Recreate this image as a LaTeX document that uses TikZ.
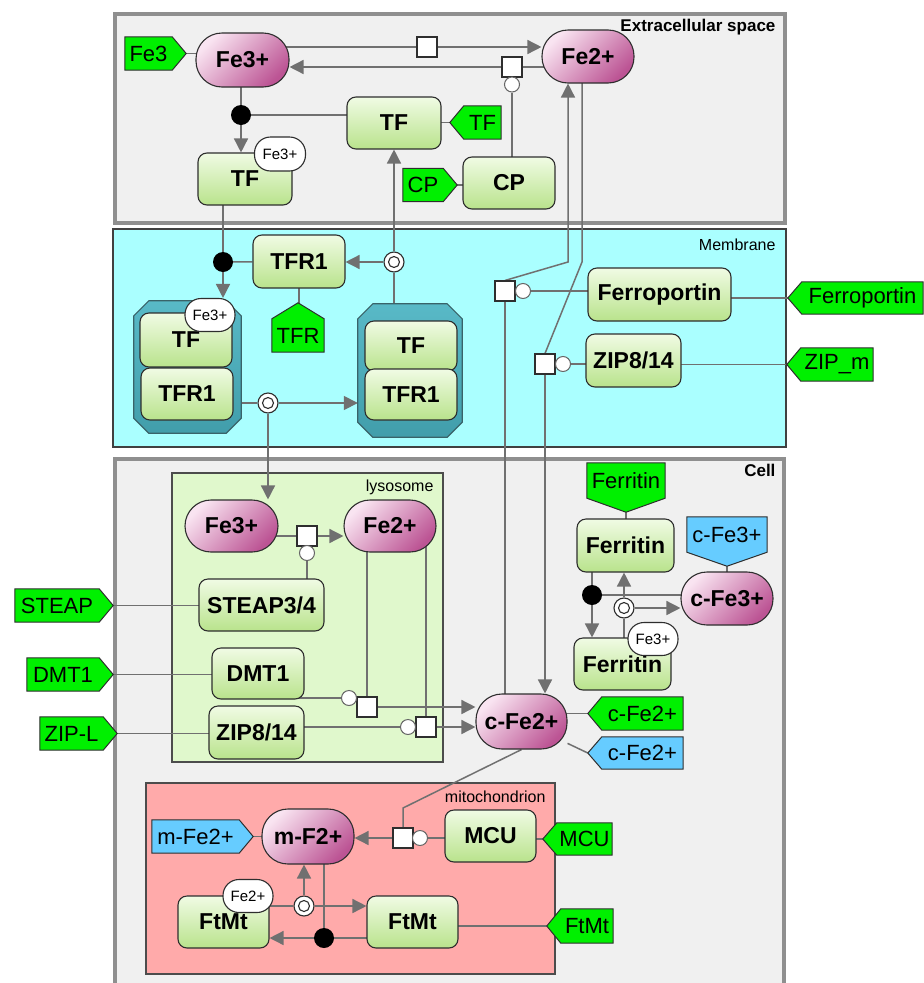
\documentclass[tikz,border=0pt]{standalone}
\usepackage{fontspec}
\setmainfont{Liberation Sans}
\usetikzlibrary{arrows.meta}
\definecolor{lineC}{HTML}{707070}
\definecolor{compG}{HTML}{8F8F8F}
\definecolor{bgGray}{HTML}{F0F0F0}
\definecolor{memC}{HTML}{AAFFFF}
\definecolor{lysC}{HTML}{E0F8CC}
\definecolor{mitoC}{HTML}{FFAAAA}
\definecolor{mgTop}{HTML}{F0FBE4}
\definecolor{mgBot}{HTML}{B9E38C}
\definecolor{chL}{HTML}{F9E4F1}
\definecolor{chR}{HTML}{BC5494}
\definecolor{tagG}{HTML}{00F000}
\definecolor{tagB}{HTML}{66CCFF}
\definecolor{cplxC}{HTML}{4AB3C2}
\definecolor{bordC}{HTML}{2E2E2E}
\pgfdeclarelayer{background}
\pgfdeclarelayer{edges}
\pgfdeclarelayer{tagbg}
\pgfsetlayers{background,edges,tagbg,main}
\newcommand\mytagE[2]{\begin{pgfonlayer}{tagbg}\filldraw[draw=bordC,line width=1pt,fill=#2] (#1.north west) -- (#1.north east) -- ([xshift=14pt]#1.east) -- (#1.south east) -- (#1.south west) -- cycle;\end{pgfonlayer}}
\newcommand\mytagW[2]{\begin{pgfonlayer}{tagbg}\filldraw[draw=bordC,line width=1pt,fill=#2] (#1.north east) -- (#1.north west) -- ([xshift=-14pt]#1.west) -- (#1.south west) -- (#1.south east) -- cycle;\end{pgfonlayer}}
\newcommand\mytagN[2]{\begin{pgfonlayer}{tagbg}\filldraw[draw=bordC,line width=1pt,fill=#2] (#1.south west) -- (#1.north west) -- ([yshift=16pt]#1.north) -- (#1.north east) -- (#1.south east) -- cycle;\end{pgfonlayer}}
\newcommand\mytagS[2]{\begin{pgfonlayer}{tagbg}\filldraw[draw=bordC,line width=1pt,fill=#2] (#1.north west) -- (#1.north east) -- (#1.south east) -- ([yshift=-14pt]#1.south) -- (#1.south west) -- cycle;\end{pgfonlayer}}
\newcommand\mycplx[1]{\begin{pgfonlayer}{tagbg}\path[draw=bordC!60!cplxC, top color=cplxC!92!white, bottom color=cplxC!88!black, line width=1.2pt] ([xshift=15pt]#1.north west) -- ([xshift=-15pt]#1.north east) -- ([yshift=-15pt]#1.north east) -- ([yshift=15pt]#1.south east) -- ([xshift=-15pt]#1.south east) -- ([xshift=15pt]#1.south west) -- ([yshift=15pt]#1.south west) -- ([yshift=-15pt]#1.north west) -- cycle;\end{pgfonlayer}}
\begin{document}
\begin{tikzpicture}[x=1pt,y=-1pt,
  macro/.style={rectangle, rounded corners=9pt, draw=bordC, line width=1.1pt, top color=mgTop, bottom color=mgBot, font=\fontsize{23}{25}\selectfont\bfseries, inner sep=0pt},
  chem/.style={rectangle, rounded corners=26pt, draw=bordC, line width=1.1pt, left color=chL, right color=chR, shading angle=45, font=\fontsize{23}{25}\selectfont\bfseries, inner sep=0pt},
  tagtext/.style={rectangle, inner sep=0pt, font=\fontsize{22}{24}\selectfont},
  proc/.style={rectangle, draw=bordC, fill=white, line width=1.1pt, minimum size=20pt, inner sep=0pt},
  cat/.style={circle, draw=black!60, fill=white, line width=1pt, minimum size=15pt, inner sep=0pt},
  assoc/.style={circle, fill=black, minimum size=20pt, inner sep=0pt},
  dissoc/.style={circle, draw=bordC, fill=white, line width=1.1pt, minimum size=20pt, inner sep=0pt, path picture={\draw[line width=1.1pt] (path picture bounding box.center) circle (5.5pt);}},
  sv/.style={rectangle, rounded corners=16pt, draw=bordC, fill=white, line width=1.1pt, font=\fontsize{15}{17}\selectfont, inner sep=0pt, minimum width=50pt, minimum height=33pt},
  cplxarea/.style={rectangle, inner sep=0pt},
  lblB/.style={anchor=base east, font=\fontsize{17}{19}\selectfont\bfseries},
  lblR/.style={anchor=base east, font=\fontsize{16}{18}\selectfont},
  arr/.style={-{Triangle[length=14pt,width=14pt]}}
]
\useasboundingbox (0,0) rectangle (924,983);
\begin{pgfonlayer}{background}
 \fill[white] (0,0) rectangle (924,983);
 \draw[line width=4pt, draw=compG, fill=bgGray] (115,14) rectangle (785,223);
 \draw[line width=1.5pt, draw=black!75, fill=memC] (113,229) rectangle (786,447);
 \draw[line width=4pt, draw=compG, fill=bgGray] (115,459) rectangle (784,1000);
 \draw[line width=1.5pt, draw=black!70, fill=lysC] (172,473) rectangle (443,762);
 \draw[line width=1.5pt, draw=black!70, fill=mitoC] (146,783) rectangle (555,974);
\end{pgfonlayer}
% compartment labels
\node[lblB] (lblEx) at (779,31) {Extracellular space};
\node[lblR] (lblMem) at (779,250) {Membrane};
\node[lblB] (lblCell) at (779,476) {Cell};
\node[lblR] (lblLys) at (437,491) {lysosome};
\node[lblR] (lblMito) at (549,802) {mitochondrion};
% ---------- extracellular
\node[chem, minimum width=93pt, minimum height=54pt] (Fe3p) at (242.5,60) {Fe3+};
\node[chem, minimum width=92pt, minimum height=53pt] (Fe2p) at (588,56.5) {Fe2+};
\node[macro, minimum width=94pt, minimum height=52pt] (TFm) at (394,123) {TF};
\node[macro, minimum width=92pt, minimum height=52pt] (CPm) at (509,183) {CP};
\node[macro, minimum width=94pt, minimum height=52pt] (TFfe) at (245,179) {TF};
\node[sv, minimum width=51pt, minimum height=34pt] (svTF) at (280,154) {Fe3+};
\node[proc] (pA) at (427,47) {};
\node[proc] (pB) at (512,67) {};
\node[cat] (catB) at (512,84.5) {};
\node[assoc] (assocA) at (241,115) {};
\node[tagtext, minimum width=47pt, minimum height=33pt] (tFe3) at (148.5,53.5) {Fe3};
\mytagE{tFe3}{tagG}
\node[tagtext, minimum width=37pt, minimum height=33pt] (tTF) at (482.5,122.5) {TF};
\mytagW{tTF}{tagG}
\node[tagtext, minimum width=40pt, minimum height=33pt] (tCP) at (423,185) {CP};
\mytagE{tCP}{tagG}
% ---------- membrane
\node[macro, minimum width=92pt, minimum height=53pt] (TFR1m) at (299,261.5) {TFR1};
\node[tagtext, minimum width=52pt, minimum height=33pt] (tTFR) at (298,335.5) {TFR};
\mytagN{tTFR}{tagG}
\node[assoc] (assocB) at (223,262) {};
\node[dissoc] (dissB) at (394,262) {};
\node[cplxarea, minimum width=107pt, minimum height=132pt] (cx1) at (187.5,367) {};
\mycplx{cx1}
\node[macro, minimum width=92pt, minimum height=54pt] (cx1TF) at (186,340) {TF};
\node[macro, minimum width=92pt, minimum height=52pt] (cx1TFR) at (187,394) {TFR1};
\node[sv] (svCx1) at (210,315) {Fe3+};
\node[cplxarea, minimum width=104pt, minimum height=133pt] (cx2) at (410,370.5) {};
\mycplx{cx2}
\node[macro, minimum width=92pt, minimum height=50pt] (cx2TF) at (411,346) {TF};
\node[macro, minimum width=92pt, minimum height=51pt] (cx2TFR) at (411,394.5) {TFR1};
\node[dissoc] (dissC) at (268,403) {};
\node[proc] (pC) at (505,291) {};
\node[cat] (catC) at (523,291) {};
\node[macro, minimum width=143pt, minimum height=53pt] (Ferro) at (659.5,294.5) {Ferroportin};
\node[tagtext, minimum width=121pt, minimum height=32pt] (tFerro) at (862.5,298) {Ferroportin};
\mytagW{tFerro}{tagG}
\node[proc] (pD) at (545,364) {};
\node[cat] (catD) at (563,364) {};
\node[macro, minimum width=95pt, minimum height=53pt] (ZIPm) at (633.5,360.5) {ZIP8/14};
\node[tagtext, minimum width=72pt, minimum height=33pt] (tZIPm) at (837,364.5) {ZIP\_m};
\mytagW{tZIPm}{tagG}
\coordinate (bendC) at (568,262);
\coordinate (bendD) at (582,262);
% ---------- lysosome / cell
\node[chem, minimum width=93pt, minimum height=52pt] (lFe3) at (231.5,526) {Fe3+};
\node[chem, minimum width=92pt, minimum height=52pt] (lFe2) at (390,526) {Fe2+};
\node[proc] (pE) at (307,536) {};
\node[cat] (catE) at (307,553) {};
\node[macro, minimum width=125pt, minimum height=52pt] (STEAPm) at (261.5,605) {STEAP3/4};
\node[tagtext, minimum width=84pt, minimum height=33pt] (tSTEAP) at (57,605.5) {STEAP};
\mytagE{tSTEAP}{tagG}
\node[macro, minimum width=92pt, minimum height=51pt] (DMT1m) at (258,673.5) {DMT1};
\node[tagtext, minimum width=72pt, minimum height=33pt] (tDMT1) at (63,674.5) {DMT1};
\mytagE{tDMT1}{tagG}
\node[macro, minimum width=95pt, minimum height=53pt] (ZIPl) at (256.5,732.5) {ZIP8/14};
\node[tagtext, minimum width=63pt, minimum height=33pt] (tZIPL) at (71.5,733.5) {ZIP-L};
\mytagE{tZIPL}{tagG}
\node[proc] (pF) at (367,707) {};
\node[cat] (catF) at (349,698) {};
\node[proc] (pG) at (426,727) {};
\node[cat] (catG) at (408,727) {};
\node[chem, minimum width=91pt, minimum height=55pt] (cFe2) at (521.5,721.5) {c-Fe2+};
\node[tagtext, minimum width=81pt, minimum height=33pt] (tcFe2g) at (642.5,713.5) {c-Fe2+};
\mytagW{tcFe2g}{tagG}
\node[tagtext, minimum width=81pt, minimum height=32pt] (tcFe2b) at (642.5,753) {c-Fe2+};
\mytagW{tcFe2b}{tagB}
\node[tagtext, minimum width=78pt, minimum height=35pt] (tFerritin) at (626,480.5) {Ferritin};
\mytagS{tFerritin}{tagG}
\node[macro, minimum width=97pt, minimum height=53pt] (Ferr1) at (625.5,545.5) {Ferritin};
\node[tagtext, minimum width=80pt, minimum height=35pt] (tcFe3) at (727,534.5) {c-Fe3+};
\mytagS{tcFe3}{tagB}
\node[chem, minimum width=92pt, minimum height=53pt] (cFe3) at (727,598.5) {c-Fe3+};
\node[macro, minimum width=97pt, minimum height=52pt] (Ferr2) at (622.5,664) {Ferritin};
\node[sv] (svFerr) at (653,639) {Fe3+};
\node[assoc] (assocF) at (592,595) {};
\node[dissoc] (dissF) at (624,608) {};
% ---------- mitochondrion
\node[tagtext, minimum width=87pt, minimum height=33pt] (tmFe2) at (195.5,836.5) {m-Fe2+};
\mytagE{tmFe2}{tagB}
\node[chem, minimum width=92pt, minimum height=55pt] (mF2) at (308,836.5) {m-F2+};
\node[proc] (pH) at (403,838) {};
\node[cat] (catH) at (420,838) {};
\node[macro, minimum width=91pt, minimum height=52pt] (MCU) at (490.5,836) {MCU};
\node[tagtext, minimum width=55pt, minimum height=32pt] (tMCU) at (584.5,839) {MCU};
\mytagW{tMCU}{tagG}
\node[macro, minimum width=91pt, minimum height=52pt] (FtL) at (223.5,922) {FtMt};
\node[sv] (svFt) at (248,896) {Fe2+};
\node[macro, minimum width=91pt, minimum height=52pt] (FtR) at (412.5,922) {FtMt};
\node[tagtext, minimum width=52pt, minimum height=34pt] (tFtMt) at (587,926) {FtMt};
\mytagW{tFtMt}{tagG}
\node[dissoc] (dissM) at (304,906) {};
\node[assoc] (assocM) at (324,938) {};
\coordinate (bendH) at (403,808);
% ---------- connectors
\begin{pgfonlayer}{edges}
\begin{scope}[color=lineC, line width=1.5pt]
\draw (tFe3.east) -- (tFe3.east -| Fe3p.center);
\draw (Fe3p.center |- pA) -- (pA);
\draw[arr] (pA.east) -- (pA -| Fe2p.west);
\draw (Fe2p.center |- pB) -- (pB);
\draw[arr] (pB.west) -- (pB -| Fe3p.east);
\draw (catB) -- (catB |- CPm.center);
\draw (tCP.east) -- (tCP.east -| CPm.center);
\draw (tTF.west) -- (tTF.west -| TFm.center);
\draw (assocA) -- (assocA |- Fe3p.center);
\draw (assocA) -- (assocA -| TFm.center);
\draw[arr] (assocA) -- (assocA |- TFfe.north);
\draw (assocB) -- (assocB |- TFfe.center);
\draw (assocB) -- (TFR1m);
\draw[arr] (assocB) -- (assocB |- svCx1.north);
\draw (TFR1m.center) -- (TFR1m.center |- tTFR.center);
\draw (dissB) -- (dissB |- cx2.center);
\draw[arr] (dissB) -- (dissB -| TFR1m.east);
\draw[arr] (dissB) -- (dissB |- TFm.south);
\draw (dissC) -- (dissC -| cx1.center);
\draw[arr] (dissC) -- (dissC -| cx2.west);
\draw[arr] (dissC) -- (dissC |- lFe3.north);
\draw (catC) -- (catC -| Ferro.center);
\draw (tFerro.west) -- (tFerro.west -| Ferro.center);
\draw[arr] (pC.north) -- (bendC) -- (bendC |- Fe2p.south);
\draw (pC) -- (pC |- cFe2.center);
\draw (catD) -- (catD -| ZIPm.center);
\draw (tZIPm.west) -- (tZIPm.west -| ZIPm.center);
\draw (pD.north) -- (bendD) -- (bendD |- Fe2p.center);
\draw[arr] (pD.south) -- (pD |- cFe2.north);
\draw (lFe3.center |- pE) -- (pE);
\draw[arr] (pE.east) -- (pE -| lFe2.west);
\draw (catE) -- (catE |- STEAPm.center);
\draw (tSTEAP.east) -- (tSTEAP.east -| STEAPm.center);
\draw (tDMT1.east) -- (tDMT1.east -| DMT1m.center);
\draw (tZIPL.east) -- (tZIPL.east -| ZIPl.center);
\draw (catF) -- (catF -| DMT1m.center);
\draw (pF.north) -- (pF |- lFe2.center);
\draw[arr] (pF.east) -- (pF -| cFe2.west);
\draw (catG) -- (catG -| ZIPl.center);
\draw (pG.north) -- (pG |- lFe2.center);
\draw[arr] (pG.east) -- (pG -| cFe2.west);
\draw (tcFe2g.west) -- (tcFe2g.west -| cFe2.center);
\draw ([xshift=-14pt]tcFe2b.west) -- (cFe2);
\draw (tFerritin.south) -- (tFerritin.south |- Ferr1.center);
\draw (tcFe3.south) -- (tcFe3.south |- cFe3.center);
\draw (assocF) -- (assocF |- Ferr1.center);
\draw (assocF) -- (assocF -| cFe3.center);
\draw[arr] (assocF) -- (assocF |- Ferr2.north);
\draw (dissF) -- (dissF |- Ferr2.center);
\draw[arr] (dissF) -- (dissF |- Ferr1.south);
\draw[arr] (dissF) -- (dissF -| cFe3.west);
\draw (tmFe2.east) -- (tmFe2.east -| mF2.center);
\draw (catH) -- (catH -| MCU.center);
\draw (tMCU.west) -- (tMCU.west -| MCU.center);
\draw (cFe2.south) -- (bendH) -- (pH.north);
\draw[arr] (pH.west) -- (pH -| mF2.east);
\draw (dissM) -- (dissM -| FtL.center);
\draw[arr] (dissM) -- (dissM -| FtR.west);
\draw[arr] (dissM) -- (dissM |- mF2.south);
\draw (assocM) -- (assocM |- mF2.center);
\draw (assocM) -- (assocM -| FtR.center);
\draw[arr] (assocM) -- (assocM -| FtL.east);
\draw (tFtMt.west) -- (tFtMt.west -| FtR.center);
\end{scope}
\end{pgfonlayer}
\end{tikzpicture}
\end{document}
